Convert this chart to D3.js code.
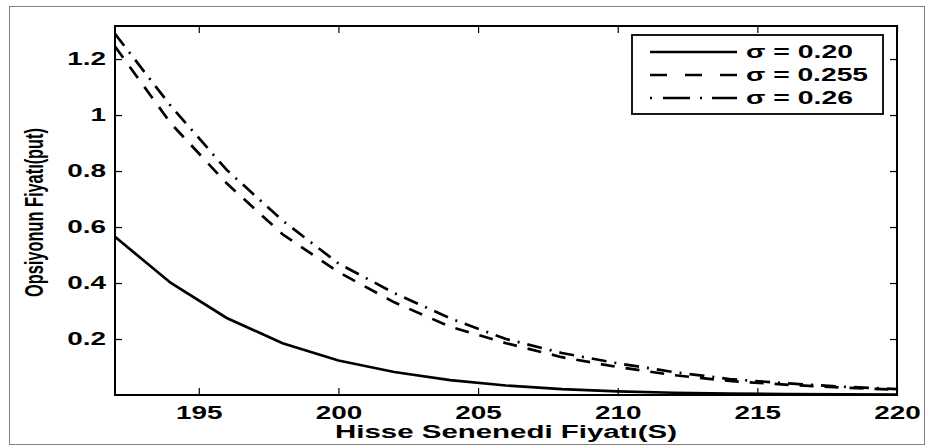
<!DOCTYPE html>
<html>
<head>
<meta charset="utf-8">
<script src="https://cdn.jsdelivr.net/npm/d3@7"></script>
<style>
  body { margin: 0; background: #fff; }
  svg { display: block; }
  .tick text { font-family: "Liberation Sans", Arial, sans-serif; font-weight: bold; }
</style>
</head>
<body>
<div id="chart"></div>
<script>
// hisse fiyatı (S)
const prices = [192, 194, 196, 198, 200, 202, 204, 206, 208, 210, 212, 214, 216, 218, 220];
// sigma = 0.20
const put020 = [0.565, 0.40, 0.275, 0.185, 0.123, 0.082, 0.053, 0.034, 0.021, 0.013, 0.008, 0.005, 0.003, 0.002, 0.001];
// sigma = 0.255
const put0255 = [1.245, 0.97, 0.756, 0.574, 0.439, 0.331, 0.244, 0.185, 0.135, 0.10, 0.071, 0.05, 0.037, 0.027, 0.019];
// sigma = 0.26
const put026 = [1.29, 1.032, 0.804, 0.623, 0.47, 0.364, 0.274, 0.2, 0.15, 0.113, 0.082, 0.057, 0.042, 0.03, 0.021];

const xTicks = [195, 200, 205, 210, 215, 220];
const yTicks = [0.2, 0.4, 0.6, 0.8, 1, 1.2];
const legendLabels = ["σ = 0.20", "σ = 0.255", "σ = 0.26"];

const width = 927, height = 446;
const margin = {left: 115, top: 26, right: 30, bottom: 51};
const iw = width - margin.left - margin.right;
const ih = height - margin.top - margin.bottom;
const sx = 1.55; // yazılar yatayda geniş

const svg = d3.select("#chart").append("svg")
  .attr("width", width).attr("height", height);

// noktalı çerçeve
svg.append("rect")
  .attr("x", 9.5).attr("y", 6.5).attr("width", 915).attr("height", 438)
  .attr("fill", "none").attr("stroke", "#000").attr("stroke-width", 1)
  .attr("stroke-dasharray", "1,1");

const g = svg.append("g").attr("transform", `translate(${margin.left},${margin.top})`);

const x = d3.scaleLinear().domain([192, 220]).range([0, iw]);
const y = d3.scaleLinear().domain([0, 1.318]).range([ih, 0]);

const fmtY = d => String(+d.toFixed(1));
const styleAxis = (sel) => {
  sel.select(".domain").remove();
  sel.selectAll(".tick line").attr("stroke", "#000").attr("stroke-width", 1.2);
  sel.selectAll(".tick text").attr("font-size", 18).attr("fill", "#000")
    .each(function() {
      const t = d3.select(this);
      const xx = +t.attr("x") || 0;
      t.attr("x", xx / sx).attr("transform", `scale(${sx},1)`);
    });
};

g.append("g").attr("transform", `translate(0,${ih})`)
  .call(d3.axisBottom(x).tickValues(xTicks).tickSize(-7).tickPadding(11))
  .call(styleAxis);
g.append("g")
  .call(d3.axisTop(x).tickValues(xTicks).tickSize(-7).tickFormat(""))
  .call(styleAxis);
g.append("g")
  .call(d3.axisLeft(y).tickValues(yTicks).tickSize(-7).tickPadding(9).tickFormat(fmtY))
  .call(styleAxis);
g.append("g").attr("transform", `translate(${iw},0)`)
  .call(d3.axisRight(y).tickValues(yTicks).tickSize(-7).tickFormat(""))
  .call(styleAxis);

// eğriler
const series = [
  {vals: put020, dash: null, ldash: null},
  {vals: put0255, dash: "14,11", ldash: "17,18"},
  {vals: put026, dash: "15,8,2,8", ldash: "2,11,27,10,2,10,27"}
];

const line = d3.line().x((d, i) => x(prices[i])).y(d => y(d));

g.append("defs").append("clipPath").attr("id", "clip")
  .append("rect").attr("width", iw).attr("height", ih);

const lines = g.append("g").attr("clip-path", "url(#clip)");
series.forEach(s => {
  lines.append("path")
    .datum(s.vals)
    .attr("d", line)
    .attr("fill", "none")
    .attr("stroke", "#000")
    .attr("stroke-width", 2.7)
    .attr("stroke-dasharray", s.dash);
});

// çizim kutusu
g.append("rect").attr("width", iw).attr("height", ih)
  .attr("fill", "none").attr("stroke", "#000").attr("stroke-width", 2);

// lejant
const legendW = [107, 122, 107];
const lg = svg.append("g").attr("transform", "translate(632,35)");
lg.append("rect").attr("width", 251).attr("height", 79)
  .attr("fill", "#fff").attr("stroke", "#000").attr("stroke-width", 1.8);
legendLabels.forEach((t, i) => {
  const yy = 17 + i * 23;
  lg.append("line")
    .attr("x1", 18).attr("x2", 105).attr("y1", yy).attr("y2", yy)
    .attr("stroke", "#000").attr("stroke-width", 2.4)
    .attr("stroke-dasharray", series[i].ldash);
  lg.append("text")
    .attr("x", 114).attr("y", yy + 6)
    .attr("font-family", "Liberation Sans, Arial, sans-serif")
    .attr("font-weight", "bold").attr("font-size", 18)
    .attr("textLength", legendW[i]).attr("lengthAdjust", "spacingAndGlyphs")
    .text(t);
});

// eksen başlıkları
svg.append("text")
  .attr("x", margin.left + iw / 2 - 171).attr("y", 438)
  .attr("font-family", "Liberation Sans, Arial, sans-serif")
  .attr("font-weight", "bold").attr("font-size", 18)
  .attr("textLength", 342).attr("lengthAdjust", "spacingAndGlyphs")
  .text("Hisse Senenedi Fiyatı(S)");

svg.append("text")
  .attr("transform", `translate(43,297) rotate(-90)`)
  .attr("font-family", "Liberation Sans Narrow, Liberation Sans, Arial, sans-serif")
  .attr("font-weight", "bold").attr("font-size", 26)
  .attr("textLength", 169).attr("lengthAdjust", "spacingAndGlyphs")
  .text("Opsiyonun Fiyatı(put)");
</script>
</body>
</html>
